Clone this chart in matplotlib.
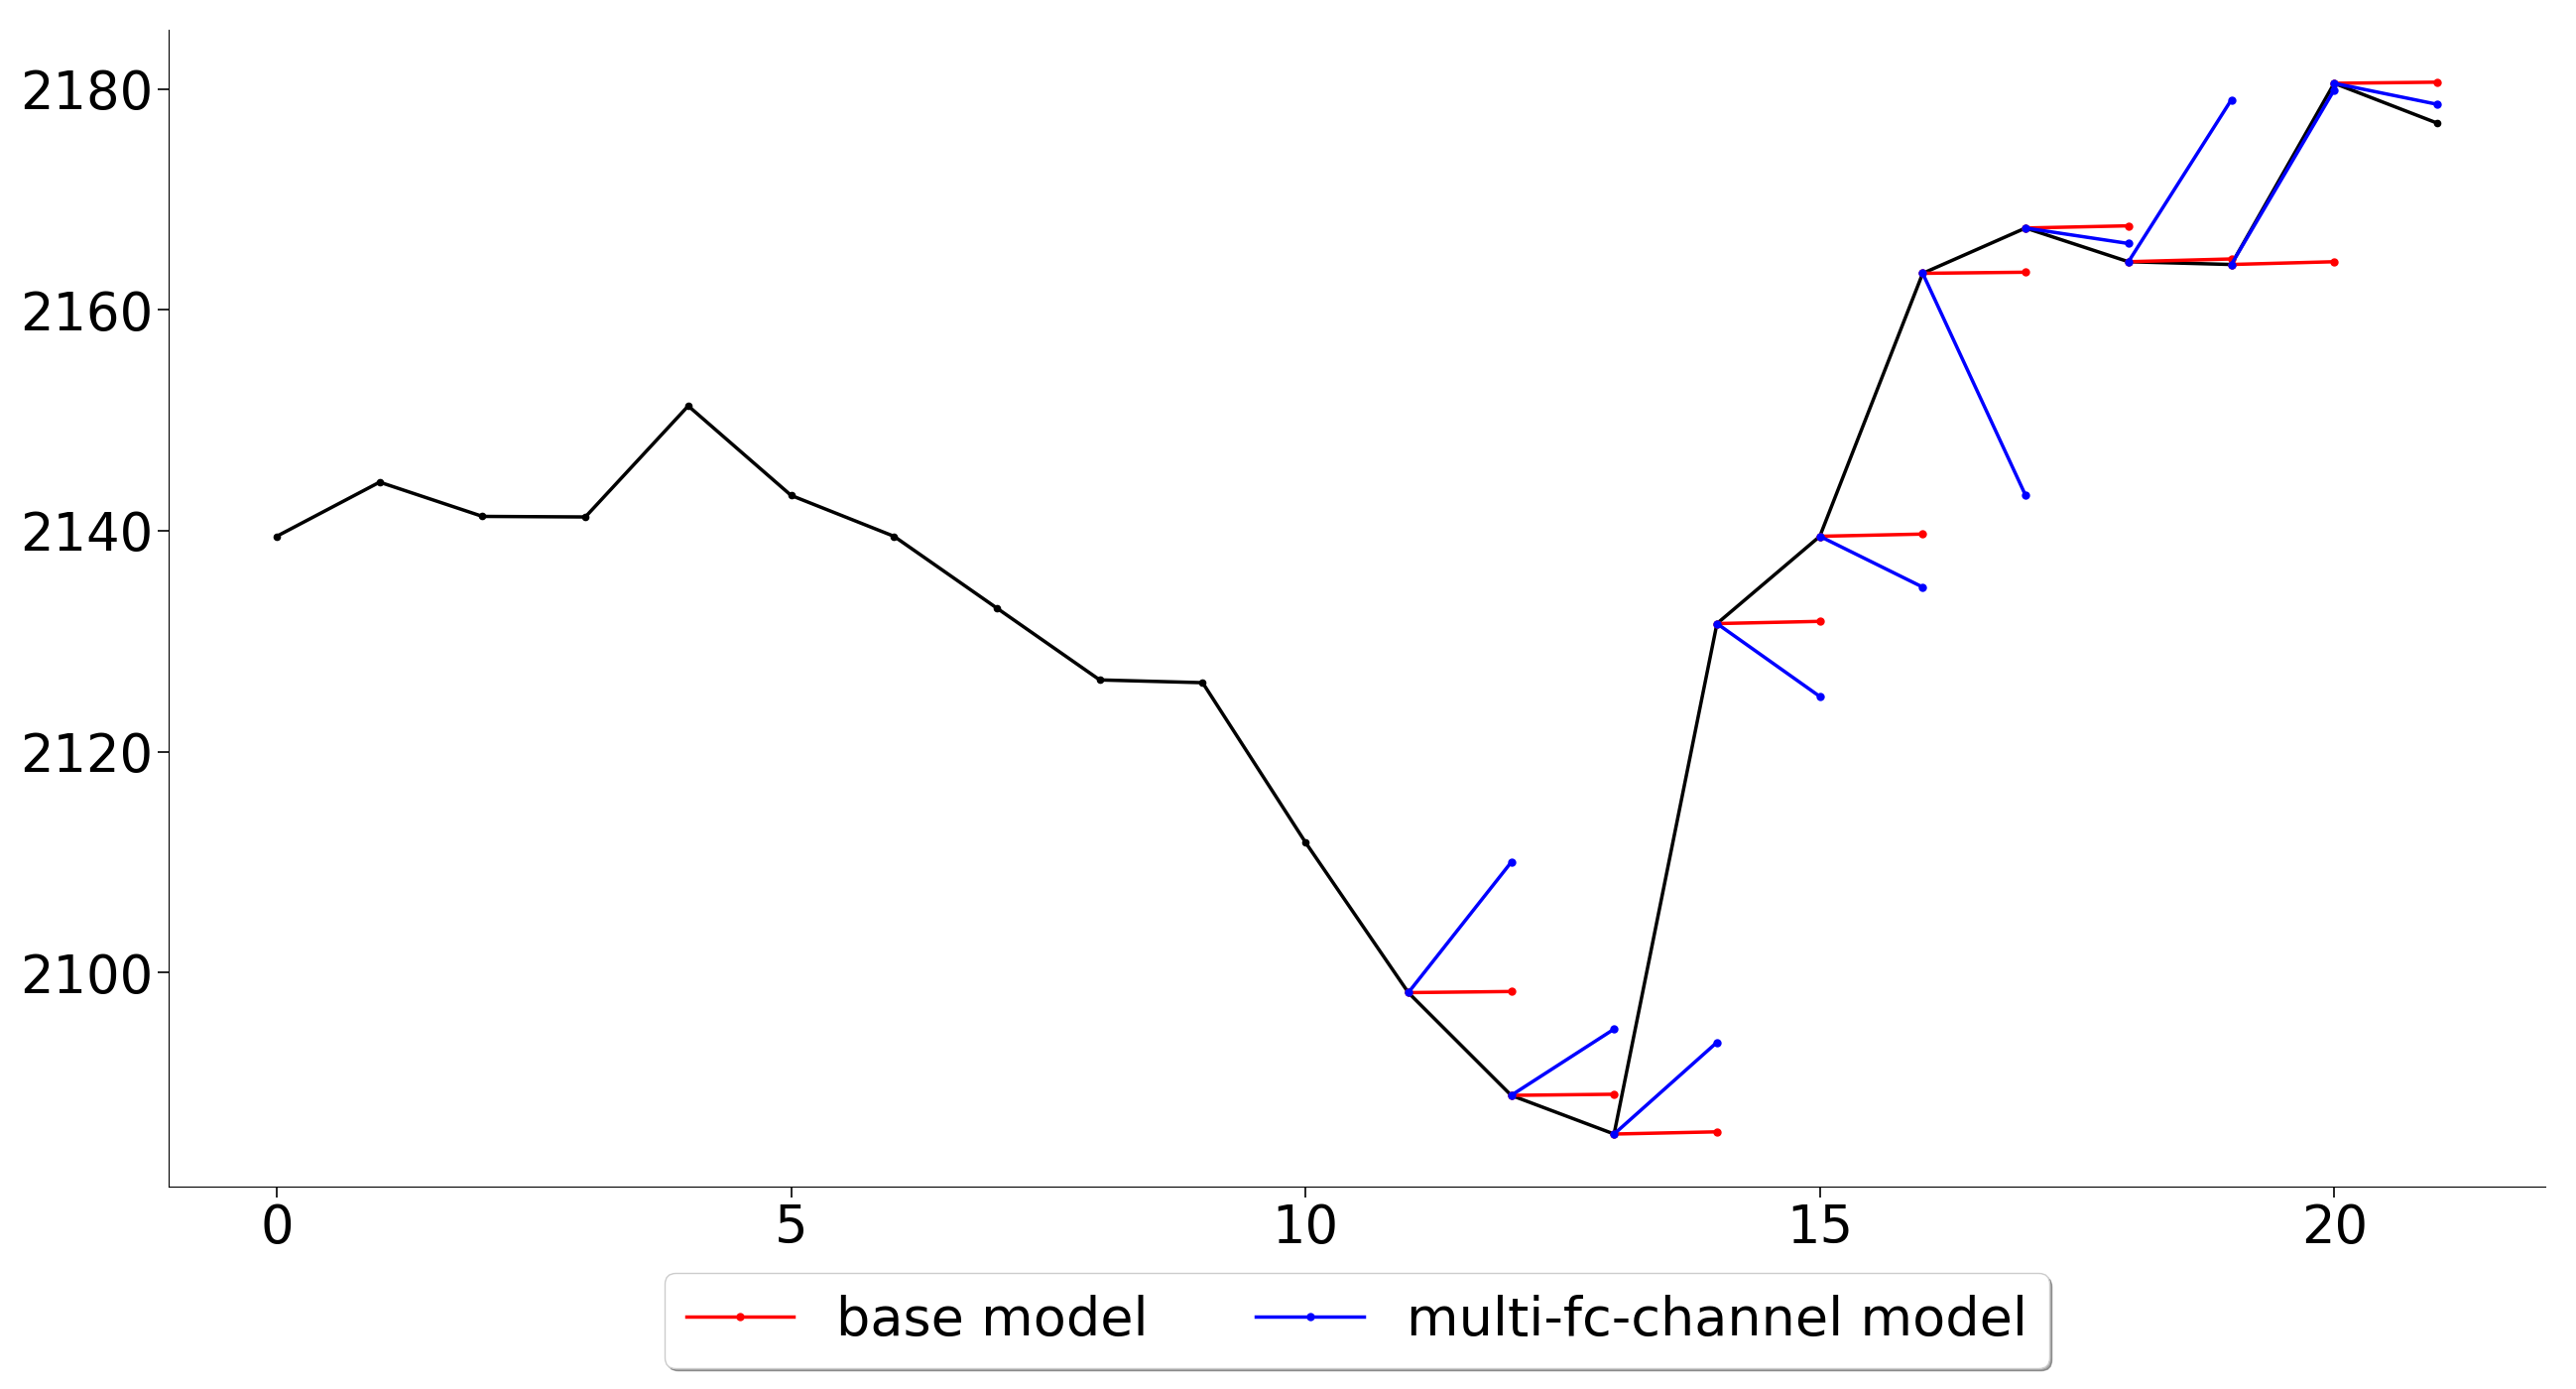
import numpy as np
import matplotlib.pyplot as plt

# observed series
actual = [2139.5, 2144.4, 2141.3, 2141.25, 2151.3, 2143.2, 2139.5, 2133.0,
          2126.5, 2126.25, 2111.8, 2098.2, 2088.9, 2085.4, 2131.6, 2139.5,
          2163.3, 2167.4, 2164.35, 2164.1, 2180.5, 2176.9]

# one-step-ahead forecasts, starting from day 11
start_days = list(range(11, 21))
base_pred = [2098.3, 2089.0, 2085.6, 2131.8, 2139.7, 2163.4, 2167.6, 2164.6,
             2164.35, 2180.6]
multi_pred = [2110.0, 2094.9, 2093.7, 2125.0, 2134.9, 2143.2, 2166.0, 2179.0,
              2179.9, 2178.6]

plt.rcParams['font.size'] = 38

fig = plt.figure(figsize=(25.97, 14), dpi=100)
ax = fig.add_axes([0.0655, 0.1457, 0.9225, 0.833])

days = np.arange(len(actual))
ax.plot(days, actual, color='black', marker='.', markersize=9, linewidth=2.5)

for i, d in enumerate(start_days):
    ax.plot([d, d + 1], [actual[d], base_pred[i]], color='red', marker='.',
            markersize=10, linewidth=2.5, label='base model' if i == 0 else None)
for i, d in enumerate(start_days):
    ax.plot([d, d + 1], [actual[d], multi_pred[i]], color='blue', marker='.',
            markersize=10, linewidth=2.5,
            label='multi-fc-channel model' if i == 0 else None)

ax.spines['top'].set_visible(False)
ax.spines['right'].set_visible(False)
ax.tick_params(labelsize=38, length=8, width=1.2)
ax.set_xticks([0, 5, 10, 15, 20])
ax.set_yticks([2100, 2120, 2140, 2160, 2180])

ax.legend(loc='upper center', bbox_to_anchor=(0.5, -0.075), ncol=2,
          shadow=True, fancybox=True, borderaxespad=0, fontsize=39)

fig.savefig('out.png', dpi=100)
